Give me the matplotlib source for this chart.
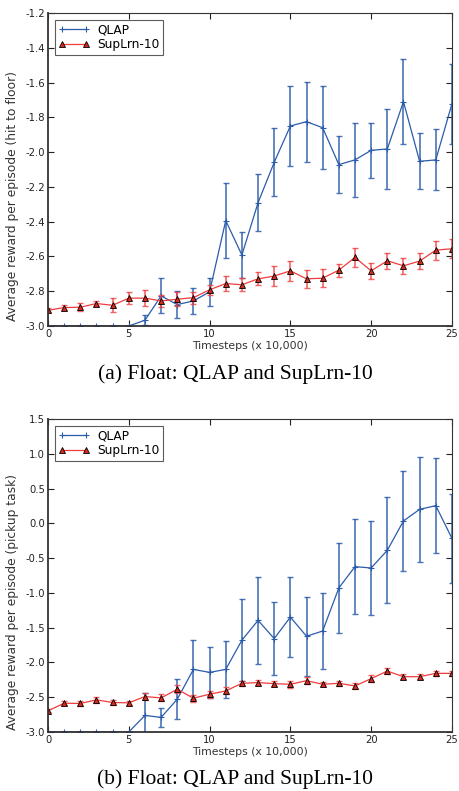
import matplotlib
matplotlib.use('Agg')
import matplotlib.pyplot as plt
import numpy as np

steps = list(range(26))

# (a) hit to floor
qlap_a = [-3.0, -3.0, -3.0, -3.0, -3.0, -3.0, -2.967, -2.827, -2.877, -2.856,
          -2.804, -2.394, -2.592, -2.291, -2.059, -1.850, -1.825, -1.860, -2.072, -2.045,
          -1.990, -1.982, -1.710, -2.053, -2.045, -1.723]
qlap_a_err = [0.0, 0.0, 0.0, 0.0, 0.0, 0.0, 0.03, 0.10, 0.08, 0.075,
              0.082, 0.216, 0.13, 0.165, 0.195, 0.23, 0.23, 0.24, 0.165, 0.215,
              0.157, 0.232, 0.246, 0.16, 0.175, 0.23]
sup_a = [-2.910, -2.894, -2.892, -2.871, -2.881, -2.840, -2.840, -2.856, -2.846, -2.837,
         -2.792, -2.756, -2.763, -2.729, -2.713, -2.683, -2.729, -2.725, -2.679, -2.606,
         -2.683, -2.625, -2.654, -2.627, -2.564, -2.556]
sup_a_err = [0.012, 0.017, 0.024, 0.015, 0.04, 0.036, 0.044, 0.035, 0.04, 0.034,
             0.03, 0.045, 0.037, 0.038, 0.057, 0.057, 0.05, 0.05, 0.038, 0.057,
             0.046, 0.046, 0.045, 0.048, 0.054, 0.055]

# (b) pickup task
qlap_b = [-3.0, -3.0, -3.0, -3.0, -3.0, -3.0, -2.762, -2.790, -2.529, -2.100,
          -2.143, -2.100, -1.681, -1.395, -1.657, -1.348, -1.624, -1.548, -0.929, -0.623,
          -0.642, -0.388, 0.034, 0.201, 0.254, -0.216]
qlap_b_err = [0.0, 0.0, 0.0, 0.0, 0.0, 0.0, 0.32, 0.14, 0.29, 0.42,
              0.37, 0.41, 0.59, 0.63, 0.52, 0.58, 0.57, 0.54, 0.65, 0.68,
              0.68, 0.76, 0.72, 0.755, 0.68, 0.64]
sup_b = [-2.695, -2.586, -2.590, -2.538, -2.576, -2.581, -2.490, -2.510, -2.386, -2.514,
         -2.457, -2.410, -2.300, -2.290, -2.305, -2.314, -2.262, -2.314, -2.300, -2.338,
         -2.233, -2.124, -2.205, -2.205, -2.157, -2.157]
sup_b_err = [0.02, 0.03, 0.04, 0.04, 0.03, 0.03, 0.05, 0.05, 0.06, 0.05,
             0.05, 0.05, 0.04, 0.04, 0.04, 0.05, 0.05, 0.03, 0.04, 0.04,
             0.05, 0.04, 0.04, 0.04, 0.04, 0.04]

panels = [
    (qlap_a, qlap_a_err, sup_a, sup_a_err, (-3.0, -1.2), np.arange(-3.0, -1.19, 0.2),
     'Average reward per episode (hit to floor)', '(a) Float: QLAP and SupLrn-10'),
    (qlap_b, qlap_b_err, sup_b, sup_b_err, (-3.0, 1.5), np.arange(-3.0, 1.51, 0.5),
     'Average reward per episode (pickup task)', '(b) Float: QLAP and SupLrn-10'),
]

blue = '#2b5cab'
red = '#f03c3c'

fig = plt.figure(figsize=(4.59, 7.91), dpi=100)
axes_pos = [[0.1046, 0.5879, 0.880, 0.3957], [0.1046, 0.0746, 0.880, 0.3957]]
caption_y = [1 - 374.5 / 791, 1 - 779 / 791]

for i, (q, qe, s, se, ylim, yticks, ylabel, caption) in enumerate(panels):
    ax = fig.add_axes(axes_pos[i])
    ax.errorbar(steps, q, yerr=qe, fmt='none', ecolor=blue, alpha=0.85,
                elinewidth=1.2, capsize=2.5, capthick=1.0)
    ax.plot(steps, q, '-+', color=blue, lw=0.9, ms=4, mew=0.8, label='QLAP')
    ax.errorbar(steps, s, yerr=se, fmt='none', ecolor=red, alpha=0.8,
                elinewidth=1.2, capsize=2.5, capthick=1.0)
    ax.plot(steps, s, '-^', color=red, lw=0.9, ms=5, mfc='#d42a1e', mec='black',
            mew=0.6, label='SupLrn-10')
    ax.set_xlim(0, 25)
    ax.set_ylim(*ylim)
    ax.set_xticks([0, 5, 10, 15, 20, 25])
    ax.set_yticks(yticks)
    ax.set_yticklabels(['%.1f' % t for t in yticks])
    ax.tick_params(direction='in', top=True, right=True, labelsize=7.2, length=4,
                   width=0.8, colors='#222222', pad=2)
    for side in ['left', 'bottom']:
        ax.spines[side].set_linewidth(1.3)
    for side in ['top', 'right']:
        ax.spines[side].set_linewidth(0.8)
    for sp in ax.spines.values():
        sp.set_color('#333333')
    ax.set_xlabel('Timesteps (x 10,000)', fontsize=7.8, labelpad=1.5, color='#333333')
    ax.set_ylabel(ylabel, fontsize=8.8, color='#333333')
    ax.yaxis.set_label_coords(-0.072, 0.415)
    leg = ax.legend(loc='upper left', fontsize=8.7, numpoints=2, fancybox=False,
                    handlelength=2.6, borderaxespad=0.55, labelspacing=0.15,
                    borderpad=0.3, handletextpad=0.6)
    leg.get_frame().set_edgecolor('#333333')
    leg.get_frame().set_linewidth(0.8)
    fig.text(0.512, caption_y[i], caption, ha='center', va='center',
             fontsize=15.5, family='Liberation Serif')

fig.savefig('out.png', dpi=100)
